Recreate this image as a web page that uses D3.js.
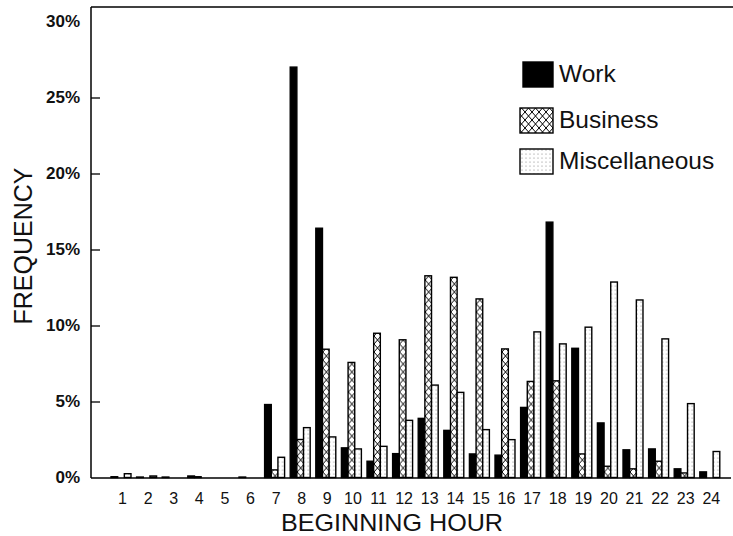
<!DOCTYPE html>
<html>
<head>
<meta charset="utf-8">
<script src="https://cdn.jsdelivr.net/npm/d3@7"></script>
<style>
  html, body { margin: 0; padding: 0; background: #fff; }
  svg { display: block; font-family: "Liberation Sans", Arial, Helvetica, sans-serif; }
</style>
</head>
<body>
<svg id="chart" width="733" height="536"></svg>
<script>
// Trip start hour (1-24) and share of trips per purpose, in percent
const hours = d3.range(1, 25);
const purposes = ["Work", "Business", "Miscellaneous"];
const work = [0.05, 0.03, 0.03, 0.1, 0, 0.03, 4.8, 27.0, 16.4, 1.95, 1.07, 1.57, 3.89, 3.1, 1.55, 1.47, 4.61, 16.8, 8.5, 3.59, 1.82, 1.88, 0.57, 0.37];
const business = [0, 0, 0, 0.05, 0, 0, 0.5, 2.5, 8.44, 7.57, 9.49, 9.06, 13.27, 13.17, 11.75, 8.46, 6.32, 6.36, 1.55, 0.74, 0.57, 1.07, 0.3, 0];
const miscellaneous = [0.25, 0.1, 0, 0, 0, 0, 1.33, 3.28, 2.67, 1.88, 2.05, 3.76, 6.08, 5.6, 3.15, 2.49, 9.58, 8.79, 9.89, 12.86, 11.68, 9.12, 4.86, 1.71];
const yTicks = [0, 5, 10, 15, 20, 25, 30];

const series = { Work: work, Business: business, Miscellaneous: miscellaneous };

const plotLeft = 91, plotRight = 733, plotTop = 7, plotBottom = 478;

const svg = d3.select("#chart");
const defs = svg.append("defs");

// Cross-hatch fill for business trips
const cross = defs.append("pattern")
  .attr("id", "cross").attr("patternUnits", "userSpaceOnUse")
  .attr("width", 7).attr("height", 8);
cross.append("rect").attr("width", 7).attr("height", 8).attr("fill", "#fff");
cross.append("path").attr("d", "M0,0L7,8M7,0L0,8")
  .attr("stroke", "#000").attr("stroke-width", 1).attr("fill", "none");

// Stipple fill for miscellaneous trips
const dots = defs.append("pattern")
  .attr("id", "dots").attr("patternUnits", "userSpaceOnUse")
  .attr("width", 4).attr("height", 4);
dots.append("rect").attr("width", 4).attr("height", 4).attr("fill", "#fff");
dots.append("circle").attr("cx", 2).attr("cy", 2).attr("r", 0.5).attr("fill", "#666");

const fills = { Work: "#000", Business: "url(#cross)", Miscellaneous: "url(#dots)" };

const x0 = d3.scaleBand().domain(hours).range([109.7, 724.1])
  .paddingInner(0.22).paddingOuter(0.11);
const x1 = d3.scaleBand().domain(purposes).range([0, x0.bandwidth()]);
const y = d3.scaleLinear().domain([0, 30]).range([477.5, 21.5]);

// Bars
const groups = svg.append("g").selectAll("g")
  .data(hours)
  .join("g")
  .attr("transform", h => `translate(${x0(h) - 1.5},0)`);

groups.selectAll("rect")
  .data((h, i) => purposes.map(p => ({ p, v: series[p][i] })).filter(d => d.v > 0))
  .join("rect")
  .attr("x", d => x1(d.p))
  .attr("width", x1.bandwidth())
  .attr("y", d => y(d.v))
  .attr("height", d => y(0) - y(d.v))
  .attr("fill", d => fills[d.p])
  .attr("stroke", "#000")
  .attr("stroke-width", 1.4);

// Frame: left axis line, top and bottom rules
const frame = svg.append("g").attr("stroke", "#000").attr("stroke-width", 1.5).attr("fill", "none");
frame.append("line").attr("x1", plotLeft).attr("x2", plotLeft).attr("y1", plotTop).attr("y2", plotBottom);
frame.append("line").attr("x1", plotLeft).attr("x2", plotRight).attr("y1", plotTop).attr("y2", plotTop);
frame.append("line").attr("x1", plotLeft).attr("x2", plotRight - 2).attr("y1", plotBottom).attr("y2", plotBottom);

// Y axis with inward ticks
const yAxis = d3.axisLeft(y).tickValues(yTicks)
  .tickFormat(d => d + "%").tickSizeInner(-9).tickSizeOuter(0).tickPadding(11);
const gy = svg.append("g").attr("transform", `translate(${plotLeft},0)`).call(yAxis);
gy.select(".domain").remove();
gy.selectAll(".tick line").attr("stroke", "#000").attr("stroke-width", 1.3)
  .filter(d => d === 0 || d === 30).remove();
gy.selectAll(".tick text").attr("font-size", 17).attr("font-weight", "bold")
  .attr("fill", "#111").attr("font-family", "'Liberation Sans', Arial, sans-serif");

// X axis labels
const xAxis = d3.axisBottom(x0).tickSize(0).tickPadding(15);
const gx = svg.append("g").attr("transform", `translate(0,${plotBottom})`).call(xAxis);
gx.select(".domain").remove();
gx.selectAll(".tick text").attr("font-size", 16).attr("fill", "#111")
  .attr("font-family", "'Liberation Sans', Arial, sans-serif");

// Axis titles
svg.append("text")
  .attr("x", 392).attr("y", 531)
  .attr("text-anchor", "middle")
  .attr("font-size", 24).attr("fill", "#111")
  .attr("textLength", 222).attr("lengthAdjust", "spacingAndGlyphs")
  .text("BEGINNING HOUR");

svg.append("text")
  .attr("transform", "translate(32,246) rotate(-90)")
  .attr("text-anchor", "middle")
  .attr("font-size", 25).attr("fill", "#111")
  .text("FREQUENCY");

// Legend
const legend = svg.append("g");
const legendRows = [
  { p: "Work", y: 62 },
  { p: "Business", y: 108 },
  { p: "Miscellaneous", y: 149 }
];
legendRows.forEach(r => {
  legend.append("rect")
    .attr("x", r.p === "Work" ? 523 : 520).attr("y", r.y)
    .attr("width", r.p === "Work" ? 30 : 33).attr("height", 25)
    .attr("fill", fills[r.p]).attr("stroke", "#000").attr("stroke-width", 1.4);
  legend.append("text")
    .attr("x", 559).attr("y", r.y + 20)
    .attr("font-size", 24.5).attr("fill", "#111")
    .text(r.p);
});
</script>
</body>
</html>
